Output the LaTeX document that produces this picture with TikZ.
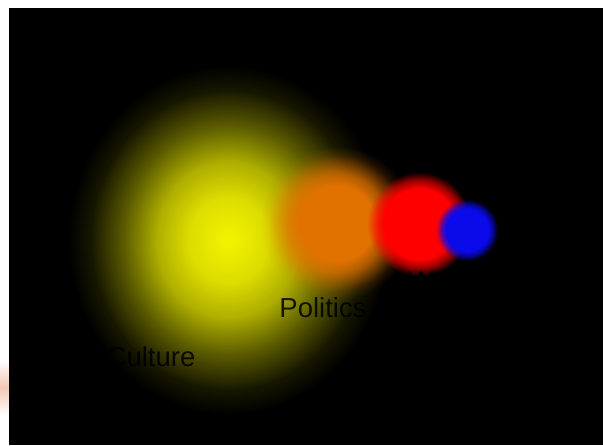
\documentclass[tikz,border=0pt]{standalone}
\usepackage{fontspec}
\setmainfont{Liberation Sans}
\usetikzlibrary{fadings}
\pgfdeclareradialshading{softshade}{\pgfpointorigin}{color(0bp)=(white); color(6bp)=(white!91!black); color(11bp)=(white!72!black); color(16.4bp)=(white!37!black); color(21.5bp)=(white!9!black); color(25bp)=(black); color(50bp)=(black)}
\pgfdeclarefading{softglow}{\pgfuseshading{softshade}}
\pgfdeclareradialshading{midshade}{\pgfpointorigin}{color(0bp)=(white); color(12bp)=(white); color(16bp)=(white!75!black); color(19bp)=(white!45!black); color(22bp)=(white!15!black); color(25bp)=(black); color(50bp)=(black)}
\pgfdeclarefading{midglow}{\pgfuseshading{midshade}}
\pgfdeclareradialshading{sharpshade}{\pgfpointorigin}{color(0bp)=(white); color(17bp)=(white); color(21bp)=(white!60!black); color(25bp)=(black); color(50bp)=(black)}
\pgfdeclarefading{sharpglow}{\pgfuseshading{sharpshade}}
\definecolor{glowyellow}{RGB}{244,244,0}
\definecolor{gloworange}{RGB}{226,114,0}
\definecolor{glowred}{RGB}{255,0,0}
\definecolor{glowblue}{RGB}{10,10,235}
\definecolor{peach}{RGB}{242,200,178}
\tikzset{
  label/.style={text=black, text opacity=0.85, font=\fontsize{27.5}{32}\selectfont, inner sep=0pt}
}
\begin{document}
\begin{tikzpicture}[x=1pt,y=1pt]
\useasboundingbox (0,0) rectangle (603,445);
\fill[white] (0,0) rectangle (603,445);
\shade[top color=white, bottom color=white, middle color=peach] (0,30) rectangle (9,85);
\fill[black] (9,0) rectangle (603,437);
\begin{scope}
\clip (9,0) rectangle (603,437);
\fill[glowyellow, path fading=softglow] (228,205) ellipse (160 and 175);
\fill[gloworange, path fading=midglow] (337,222) circle (77);
\fill[glowred, path fading=sharpglow] (419,221) circle (52);
\fill[glowblue, path fading=sharpglow] (467,215) circle (31);
\end{scope}
\node[label] (politics) at (323,137) {Politics};
\node[label] (culture) at (151,88) {Culture};
\node[label, anchor=west] (war) at (408,164) {W};
\end{tikzpicture}
\end{document}
